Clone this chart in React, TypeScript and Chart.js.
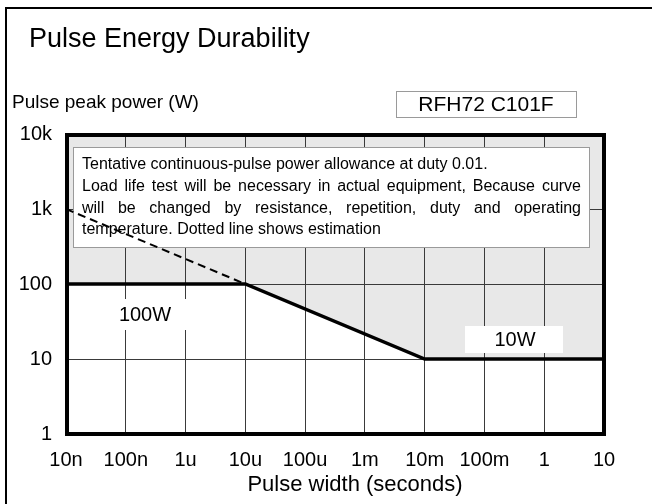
import React, { useEffect, useRef } from "react";
import { Chart, registerables } from "chart.js";

Chart.register(...registerables);

const FONT = "'Liberation Sans', Arial, sans-serif";

const xTickValues = [1e-8, 1e-7, 1e-6, 1e-5, 1e-4, 1e-3, 1e-2, 1e-1, 1, 10];
const xTickLabels = ["10n", "100n", "1u", "10u", "100u", "1m", "10m", "100m", "1", "10"];
const yTickValues = [1, 10, 100, 1000, 10000];
const yTickLabels = ["1", "10", "100", "1k", "10k"];

// Allowable pulse peak power curve
const limitWidths = [1e-8, 1e-5, 1e-2, 10];
const limitPower = [100, 100, 10, 10];
// Estimated (dotted) extension
const estimateWidths = [1e-8, 1e-5];
const estimatePower = [1000, 100];

const chartTitle = "Pulse Energy Durability";
const yAxisTitle = "Pulse peak power (W)";
const xAxisTitle = "Pulse width (seconds)";
const modelName = "RFH72 C101F";
const noteLines = [
  "Tentative continuous-pulse power allowance at duty 0.01.",
  "Load life test will be necessary in actual equipment,  Because curve",
  "will be changed by resistance, repetition, duty and operating",
  "temperature. Dotted line shows estimation",
];
const noteJustify = [false, true, true, false];
const label100 = "100W";
const label10 = "10W";

function drawJustified(ctx: CanvasRenderingContext2D, text: string, x: number, y: number, w: number) {
  const words = text.split(/\s+/).filter((s) => s.length);
  const total = words.reduce((s, wd) => s + ctx.measureText(wd).width, 0);
  const gap = (w - total) / (words.length - 1);
  let cx = x;
  for (const wd of words) {
    ctx.fillText(wd, cx, y);
    cx += ctx.measureText(wd).width + gap;
  }
}

const decorPlugin = {
  id: "decor",
  beforeDatasetsDraw(chart: any) {
    const ctx = chart.ctx as CanvasRenderingContext2D;
    ctx.save();
    // note box
    ctx.fillStyle = "#ffffff";
    ctx.fillRect(73, 147, 516, 100);
    ctx.strokeStyle = "#9a9a9a";
    ctx.lineWidth = 1;
    ctx.strokeRect(73.5, 147.5, 516, 100);
    ctx.fillStyle = "#000";
    ctx.font = `16px ${FONT}`;
    ctx.textBaseline = "middle";
    ctx.textAlign = "left";
    const ys = [165, 187, 209, 230];
    noteLines.forEach((ln, i) => {
      if (noteJustify[i]) drawJustified(ctx, ln, 82, ys[i], 499);
      else ctx.fillText(ln, 82, ys[i]);
    });
    // 100W label
    ctx.fillStyle = "#fff";
    ctx.fillRect(95, 299, 112, 31);
    ctx.fillStyle = "#000";
    ctx.font = `20px ${FONT}`;
    ctx.textAlign = "center";
    ctx.fillText(label100, 145, 315);
    // 10W label
    ctx.fillStyle = "#fff";
    ctx.fillRect(465, 326, 98, 27);
    ctx.fillStyle = "#000";
    ctx.fillText(label10, 515, 340);
    ctx.restore();
  },
  afterDraw(chart: any) {
    const ctx = chart.ctx as CanvasRenderingContext2D;
    const a = chart.chartArea;
    ctx.save();
    // plot border
    ctx.strokeStyle = "#000";
    ctx.lineWidth = 4;
    ctx.strokeRect(a.left + 1, a.top + 1, a.right - a.left - 1, a.bottom - a.top - 1);
    // outer frame
    ctx.lineWidth = 2;
    ctx.strokeRect(6, 8, 800, 800);
    // titles
    ctx.fillStyle = "#000";
    ctx.textBaseline = "middle";
    ctx.textAlign = "left";
    ctx.font = `27px ${FONT}`;
    ctx.fillText(chartTitle, 29, 40);
    ctx.font = `19px ${FONT}`;
    ctx.fillText(yAxisTitle, 12, 103);
    // model box
    ctx.fillStyle = "#fff";
    ctx.fillRect(396, 91, 180, 26);
    ctx.strokeStyle = "#9a9a9a";
    ctx.lineWidth = 1;
    ctx.strokeRect(396.5, 91.5, 180, 26);
    ctx.fillStyle = "#000";
    ctx.textAlign = "center";
    ctx.font = `21px ${FONT}`;
    ctx.fillText(modelName, 486, 105);
    ctx.font = `22px ${FONT}`;
    ctx.fillText(xAxisTitle, 355, 485);
    ctx.restore();
  },
};

export default function App() {
  const ref = useRef<HTMLCanvasElement>(null);
  useEffect(() => {
    if (!ref.current) return;
    const chart = new Chart(ref.current, {
      type: "line",
      data: {
        datasets: [
          {
            data: limitWidths.map((x, i) => ({ x, y: limitPower[i] })),
            borderColor: "#000",
            borderWidth: 3.5,
            pointRadius: 0,
            fill: "end",
            backgroundColor: "#e8e8e8",
            tension: 0,
          },
          {
            data: estimateWidths.map((x, i) => ({ x, y: estimatePower[i] })),
            borderColor: "#000",
            borderWidth: 2,
            borderDash: [8, 5],
            pointRadius: 0,
            fill: false,
            tension: 0,
          },
        ],
      },
      options: {
        responsive: false,
        animation: false,
        devicePixelRatio: 1,
        layout: { padding: { top: 134, right: 48, left: 0, bottom: 0 } },
        plugins: {
          legend: { display: false },
          tooltip: { enabled: false },
          title: { display: false },
          filler: { drawTime: "beforeDraw" },
        } as any,
        scales: {
          x: {
            type: "logarithmic",
            min: 1e-8,
            max: 10,
            afterBuildTicks: (s: any) => {
              s.ticks = xTickValues.map((v) => ({ value: v }));
            },
            afterFit: (s: any) => {
              s.height = 70;
            },
            grid: { color: "#3a3a3a", lineWidth: 1, drawTicks: false },
            border: { display: false },
            ticks: {
              color: "#000",
              font: { family: FONT, size: 20 },
              padding: 14,
              maxRotation: 0,
              autoSkip: false,
              callback: (_v: any, i: number) => xTickLabels[i],
            },
          },
          y: {
            type: "logarithmic",
            min: 1,
            max: 10000,
            afterBuildTicks: (s: any) => {
              s.ticks = yTickValues.map((v) => ({ value: v }));
            },
            afterFit: (s: any) => {
              s.width = 66;
            },
            grid: { color: "#3a3a3a", lineWidth: 1, drawTicks: false },
            border: { display: false },
            ticks: {
              color: "#000",
              font: { family: FONT, size: 20 },
              padding: 14,
              autoSkip: false,
              callback: (_v: any, i: number) => yTickLabels[i],
            },
          },
        },
      } as any,
      plugins: [decorPlugin],
    });
    return () => chart.destroy();
  }, []);
  return (
    <div style={{ position: "fixed", left: 0, top: 0, width: 652, height: 504, background: "#fff" }}>
      <canvas ref={ref} width={652} height={504} style={{ display: "block" }} />
    </div>
  );
}
